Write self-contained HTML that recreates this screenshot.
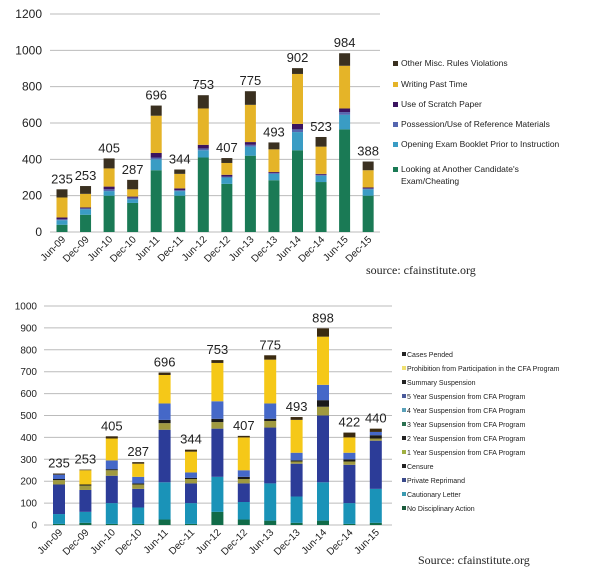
<!DOCTYPE html><html><head><meta charset="utf-8"><style>
body{margin:0;background:#fff;width:601px;height:576px;overflow:hidden}
svg{display:block;font-family:"Liberation Sans",sans-serif}
</style></head><body>
<svg id="s" width="601" height="576" xmlns="http://www.w3.org/2000/svg"></svg>
<script>
const s=document.getElementById('s');let h='';
// top chart
const t0=232,tk=218/1200;
for(let v=0;v<=1200;v+=200){const y=t0-v*tk;h+=`<line x1="50" x2="380" y1="${y}" y2="${y}" stroke="#bbb" stroke-width="1"/><text x="42" y="${y+4}" font-size="12" text-anchor="end" fill="#222">${v}</text>`;}
const tc=['#1a7a55','#3a9cc4','#5566b0','#3b1460','#e5b428','#3a3020'];
const tl=['Jun-09','Dec-09','Jun-10','Dec-10','Jun-11','Dec-11','Jun-12','Dec-12','Jun-13','Dec-13','Jun-14','Dec-14','Jun-15','Dec-15'];
const td=[[40,25,5,10,110,45],[95,30,5,5,75,43],[200,25,10,15,100,55],[160,20,10,5,40,52],[340,60,10,25,205,56],[200,25,5,10,80,24],[410,40,10,20,200,73],[265,35,5,10,65,27],[420,50,10,15,205,75],[285,35,5,5,125,38],[450,100,15,30,275,32],[275,35,5,5,150,53],[565,80,15,20,235,69],[200,35,5,5,95,48]];
const tt=[235,253,405,287,696,344,753,407,775,493,902,523,984,388];
td.forEach((d,i)=>{const cx=62+i*23.55;let acc=0;d.forEach((v,j)=>{const y=t0-(acc+v)*tk;h+=`<rect x="${cx-5.5}" y="${y}" width="11" height="${v*tk}" fill="${tc[j]}"/>`;acc+=v;});
h+=`<text x="${cx}" y="${t0-tt[i]*tk-6}" font-size="13" text-anchor="middle" fill="#222">${tt[i]}</text>`;
h+=`<text transform="translate(${cx+4},${t0+8}) rotate(-45)" font-size="10" text-anchor="end" fill="#222">${tl[i]}</text>`;});
const tleg=[['Other Misc. Rules Violations',66,5],['Writing Past Time',87,4],['Use of Scratch Paper',107,3],['Possession/Use of Reference Materials',127,2],['Opening Exam Booklet Prior to Instruction',147,1],["Looking at Another Candidate's",172,0]];
tleg.forEach(([n,y,c])=>{h+=`<rect x="393" y="${y-5}" width="5" height="5" fill="${tc[c]}"/><text x="401" y="${y}" font-size="8.5" fill="#222">${n}</text>`;});
h+=`<text x="401" y="184" font-size="8.5" fill="#222">Exam/Cheating</text>`;
h+=`<text x="366" y="274" font-size="12" font-family="Liberation Serif" fill="#222">source: cfainstitute.org</text>`;
// bottom chart
const b0=525,bk=219/1000;
for(let v=0;v<=1000;v+=100){const y=b0-v*bk;h+=`<line x1="44" x2="392" y1="${y}" y2="${y}" stroke="#bbb" stroke-width="1"/><text x="37" y="${y+3.5}" font-size="10" text-anchor="end" fill="#222">${v}</text>`;}
const bc=['#116b48','#1a93b8','#2c3c98','#a09a40','#1a1a1a','#4568c8','#f5c818','#3a2a10'];
const bd=[[5,45,135,20,5,20,0,5],[10,50,100,20,5,0,65,3],[5,95,125,25,5,40,100,10],[5,75,85,20,5,30,60,7],[25,170,240,30,15,75,130,11],[5,95,90,20,5,25,95,9],[60,160,220,30,15,80,175,13],[25,80,85,20,10,30,150,7],[20,170,255,30,10,70,200,20],[10,120,150,10,5,35,150,13],[20,175,305,40,30,70,220,38],[5,95,175,15,10,30,70,22],[10,155,220,10,15,15,0,15]];
const bt=[235,253,405,287,696,344,753,407,775,493,898,422,440];
bd.forEach((d,i)=>{const cx=59+i*26.4;let acc=0;d.forEach((v,j)=>{const y=b0-(acc+v)*bk;h+=`<rect x="${cx-6}" y="${y}" width="12" height="${v*bk}" fill="${bc[j]}"/>`;acc+=v;});
h+=`<text x="${cx}" y="${b0-bt[i]*bk-6}" font-size="13" text-anchor="middle" fill="#222">${bt[i]}</text>`;
h+=`<text transform="translate(${cx+4},${b0+8}) rotate(-45)" font-size="10" text-anchor="end" fill="#222">${tl[i]}</text>`;});
const bl=[['Cases Pended','#222'],['Prohibition from Participation in the CFA Program','#f0e070'],['Summary Suspension','#222'],['5 Year Suspension from CFA Program','#4a5a9a'],['4 Year Suspension from CFA Program','#5aa0b8'],['3 Year Supsension from CFA Program','#2a7050'],['2 Year Suspension from CFA Program','#222'],['1 Year Suspension from CFA Program','#a0b040'],['Censure','#222'],['Private Reprimand','#3a4a8a'],['Cautionary Letter','#3a9ab0'],['No Disciplinary Action','#1a5a3a']];
bl.forEach(([n,c],i)=>{const y=357+i*14;h+=`<rect x="402" y="${y-5}" width="4" height="4" fill="${c}"/><text x="407" y="${y}" font-size="7" fill="#222">${n}</text>`;});
h+=`<text x="418" y="564" font-size="12" font-family="Liberation Serif" fill="#222">Source: cfainstitute.org</text>`;
s.innerHTML=h;
</script></body></html>
